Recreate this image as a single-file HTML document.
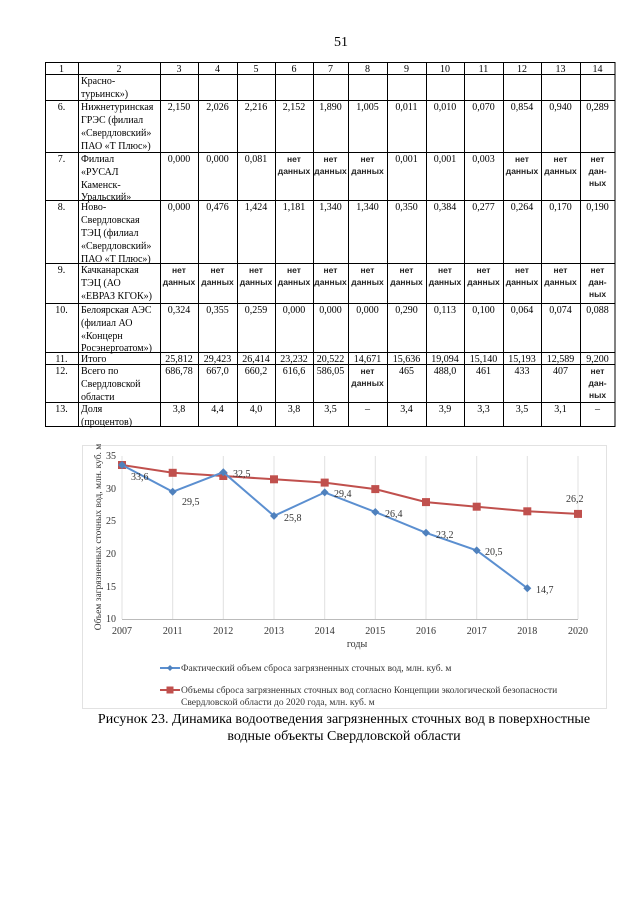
<!DOCTYPE html>
<html><head><meta charset="utf-8"><style>
body{margin:0;background:#fff}
svg{display:block}
.t{font-family:"Liberation Serif",serif;font-size:10px;fill:#000}
.b{font-family:"Liberation Sans",sans-serif;font-size:8.5px;font-weight:bold;fill:#222}
.c{font-family:"Liberation Serif",serif;font-size:10px;fill:#333}
</style></head><body>
<svg width="640" height="905" viewBox="0 0 640 905" xmlns="http://www.w3.org/2000/svg">
<text x="341" y="46" class="t" style="font-size:14px" text-anchor="middle">51</text>
<g stroke="#000" stroke-width="1" fill="none">
<rect x="45.5" y="62.5" width="569.5" height="364"/>
<line x1="45" y1="74.5" x2="615" y2="74.5"/>
<line x1="45" y1="100.5" x2="615" y2="100.5"/>
<line x1="45" y1="152.5" x2="615" y2="152.5"/>
<line x1="45" y1="200.5" x2="615" y2="200.5"/>
<line x1="45" y1="263.5" x2="615" y2="263.5"/>
<line x1="45" y1="303.5" x2="615" y2="303.5"/>
<line x1="45" y1="352.5" x2="615" y2="352.5"/>
<line x1="45" y1="364.5" x2="615" y2="364.5"/>
<line x1="45" y1="402.5" x2="615" y2="402.5"/>
<line x1="78.5" y1="62" x2="78.5" y2="427"/>
<line x1="160.5" y1="62" x2="160.5" y2="427"/>
<line x1="198.5" y1="62" x2="198.5" y2="427"/>
<line x1="237.5" y1="62" x2="237.5" y2="427"/>
<line x1="275.5" y1="62" x2="275.5" y2="427"/>
<line x1="313.5" y1="62" x2="313.5" y2="427"/>
<line x1="348.5" y1="62" x2="348.5" y2="427"/>
<line x1="387.5" y1="62" x2="387.5" y2="427"/>
<line x1="426.5" y1="62" x2="426.5" y2="427"/>
<line x1="464.5" y1="62" x2="464.5" y2="427"/>
<line x1="503.5" y1="62" x2="503.5" y2="427"/>
<line x1="541.5" y1="62" x2="541.5" y2="427"/>
<line x1="580.5" y1="62" x2="580.5" y2="427"/>
</g>
<g class="t" text-anchor="middle">
<text x="61.5" y="72">1</text><text x="119" y="72">2</text><text x="179" y="72">3</text><text x="217.5" y="72">4</text><text x="256" y="72">5</text><text x="294" y="72">6</text><text x="330.5" y="72">7</text><text x="367.5" y="72">8</text><text x="406.5" y="72">9</text><text x="445" y="72">10</text><text x="483.5" y="72">11</text><text x="522" y="72">12</text><text x="560.5" y="72">13</text><text x="597.5" y="72">14</text>
<!-- row 6 -->
<text x="61.5" y="110">6.</text>
<text x="179" y="110">2,150</text><text x="217.5" y="110">2,026</text><text x="256" y="110">2,216</text><text x="294" y="110">2,152</text><text x="330.5" y="110">1,890</text><text x="367.5" y="110">1,005</text><text x="406.5" y="110">0,011</text><text x="445" y="110">0,010</text><text x="483.5" y="110">0,070</text><text x="522" y="110">0,854</text><text x="560.5" y="110">0,940</text><text x="597.5" y="110">0,289</text>
<!-- row 7 -->
<text x="61.5" y="162">7.</text>
<text x="179" y="162">0,000</text><text x="217.5" y="162">0,000</text><text x="256" y="162">0,081</text>
<text x="406.5" y="162">0,001</text><text x="445" y="162">0,001</text><text x="483.5" y="162">0,003</text>
<!-- row 8 -->
<text x="61.5" y="210">8.</text>
<text x="179" y="210">0,000</text><text x="217.5" y="210">0,476</text><text x="256" y="210">1,424</text><text x="294" y="210">1,181</text><text x="330.5" y="210">1,340</text><text x="367.5" y="210">1,340</text><text x="406.5" y="210">0,350</text><text x="445" y="210">0,384</text><text x="483.5" y="210">0,277</text><text x="522" y="210">0,264</text><text x="560.5" y="210">0,170</text><text x="597.5" y="210">0,190</text>
<!-- row 9 -->
<text x="61.5" y="273">9.</text>
<!-- row 10 -->
<text x="61.5" y="313">10.</text>
<text x="179" y="313">0,324</text><text x="217.5" y="313">0,355</text><text x="256" y="313">0,259</text><text x="294" y="313">0,000</text><text x="330.5" y="313">0,000</text><text x="367.5" y="313">0,000</text><text x="406.5" y="313">0,290</text><text x="445" y="313">0,113</text><text x="483.5" y="313">0,100</text><text x="522" y="313">0,064</text><text x="560.5" y="313">0,074</text><text x="597.5" y="313">0,088</text>
<!-- row 11 -->
<text x="61.5" y="362">11.</text>
<text x="179" y="362">25,812</text><text x="217.5" y="362">29,423</text><text x="256" y="362">26,414</text><text x="294" y="362">23,232</text><text x="330.5" y="362">20,522</text><text x="367.5" y="362">14,671</text><text x="406.5" y="362">15,636</text><text x="445" y="362">19,094</text><text x="483.5" y="362">15,140</text><text x="522" y="362">15,193</text><text x="560.5" y="362">12,589</text><text x="597.5" y="362">9,200</text>
<!-- row 12 -->
<text x="61.5" y="374">12.</text>
<text x="179" y="374">686,78</text><text x="217.5" y="374">667,0</text><text x="256" y="374">660,2</text><text x="294" y="374">616,6</text><text x="330.5" y="374">586,05</text><text x="406.5" y="374">465</text><text x="445" y="374">488,0</text><text x="483.5" y="374">461</text><text x="522" y="374">433</text><text x="560.5" y="374">407</text>
<!-- row 13 -->
<text x="61.5" y="412">13.</text>
<text x="179" y="412">3,8</text><text x="217.5" y="412">4,4</text><text x="256" y="412">4,0</text><text x="294" y="412">3,8</text><text x="330.5" y="412">3,5</text><text x="367.5" y="412">–</text><text x="406.5" y="412">3,4</text><text x="445" y="412">3,9</text><text x="483.5" y="412">3,3</text><text x="522" y="412">3,5</text><text x="560.5" y="412">3,1</text><text x="597.5" y="412">–</text>
</g>
<g class="t">
<text x="81" y="84">Красно-</text><text x="81" y="97">турьинск»)</text>
<text x="81" y="110">Нижнетуринская</text><text x="81" y="123">ГРЭС (филиал</text><text x="81" y="136">«Свердловский»</text><text x="81" y="149">ПАО «Т Плюс»)</text>
<text x="81" y="162">Филиал</text><text x="81" y="175">«РУСАЛ</text><text x="81" y="188">Каменск-</text><text x="81" y="200">Уральский»</text>
<text x="81" y="210">Ново-</text><text x="81" y="223">Свердловская</text><text x="81" y="236">ТЭЦ (филиал</text><text x="81" y="249">«Свердловский»</text><text x="81" y="262">ПАО «Т Плюс»)</text>
<text x="81" y="273">Качканарская</text><text x="81" y="286">ТЭЦ (АО</text><text x="81" y="299">«ЕВРАЗ КГОК»)</text>
<text x="81" y="313">Белоярская АЭС</text><text x="81" y="326">(филиал АО</text><text x="81" y="339">«Концерн</text><text x="81" y="351">Росэнергоатом»)</text>
<text x="81" y="362">Итого</text>
<text x="81" y="374">Всего по</text><text x="81" y="387">Свердловской</text><text x="81" y="400">области</text>
<text x="81" y="412">Доля</text><text x="81" y="425">(процентов)</text>
</g>
<g class="b" text-anchor="middle">
<text x="294" y="162">нет</text><text x="294" y="174">данных</text>
<text x="330.5" y="162">нет</text><text x="330.5" y="174">данных</text>
<text x="367.5" y="162">нет</text><text x="367.5" y="174">данных</text>
<text x="522" y="162">нет</text><text x="522" y="174">данных</text>
<text x="560.5" y="162">нет</text><text x="560.5" y="174">данных</text>
<text x="597.5" y="162">нет</text><text x="597.5" y="174">дан-</text><text x="597.5" y="186">ных</text>
<text x="179" y="273">нет</text><text x="179" y="285">данных</text>
<text x="217.5" y="273">нет</text><text x="217.5" y="285">данных</text>
<text x="256" y="273">нет</text><text x="256" y="285">данных</text>
<text x="294" y="273">нет</text><text x="294" y="285">данных</text>
<text x="330.5" y="273">нет</text><text x="330.5" y="285">данных</text>
<text x="367.5" y="273">нет</text><text x="367.5" y="285">данных</text>
<text x="406.5" y="273">нет</text><text x="406.5" y="285">данных</text>
<text x="445" y="273">нет</text><text x="445" y="285">данных</text>
<text x="483.5" y="273">нет</text><text x="483.5" y="285">данных</text>
<text x="522" y="273">нет</text><text x="522" y="285">данных</text>
<text x="560.5" y="273">нет</text><text x="560.5" y="285">данных</text>
<text x="597.5" y="273">нет</text><text x="597.5" y="285">дан-</text><text x="597.5" y="297">ных</text>
<text x="367.5" y="374">нет</text><text x="367.5" y="386">данных</text>
<text x="597.5" y="374">нет</text><text x="597.5" y="386">дан-</text><text x="597.5" y="398">ных</text>
</g>
<!-- chart -->
<rect x="82.5" y="445.5" width="524" height="263" fill="none" stroke="#e2e2e2"/>
<g stroke="#e0e0e0" stroke-width="1">
<line x1="122" y1="456" x2="122" y2="619"/><line x1="172.7" y1="456" x2="172.7" y2="619"/><line x1="223.3" y1="456" x2="223.3" y2="619"/><line x1="274" y1="456" x2="274" y2="619"/><line x1="324.7" y1="456" x2="324.7" y2="619"/><line x1="375.3" y1="456" x2="375.3" y2="619"/><line x1="426" y1="456" x2="426" y2="619"/><line x1="476.7" y1="456" x2="476.7" y2="619"/><line x1="527.3" y1="456" x2="527.3" y2="619"/><line x1="578" y1="456" x2="578" y2="619"/>
</g>
<line x1="122" y1="619.5" x2="578" y2="619.5" stroke="#bbb"/>
<g class="c" text-anchor="end">
<text x="116" y="459">35</text><text x="116" y="492">30</text><text x="116" y="524">25</text><text x="116" y="557">20</text><text x="116" y="590">15</text><text x="116" y="622">10</text>
</g>
<g class="c" text-anchor="middle">
<text x="122" y="634">2007</text><text x="172.7" y="634">2011</text><text x="223.3" y="634">2012</text><text x="274" y="634">2013</text><text x="324.7" y="634">2014</text><text x="375.3" y="634">2015</text><text x="426" y="634">2016</text><text x="476.7" y="634">2017</text><text x="527.3" y="634">2018</text><text x="578" y="634">2020</text>
<text x="357" y="647">годы</text>
</g>
<text class="c" transform="translate(101,537) rotate(-90)" text-anchor="middle" style="font-size:9.5px">Объем загрязненных сточных вод, млн. куб. м</text>
<polyline fill="none" stroke="#c0504d" stroke-width="2" points="122,465 172.7,472.8 223.3,476 274,479.3 324.7,482.6 375.3,489.1 426,502.1 476.7,506.7 527.3,511.3 578,513.9"/>
<g fill="#c0504d">
<rect x="118" y="461" width="8" height="8"/><rect x="168.7" y="468.8" width="8" height="8"/><rect x="219.3" y="472" width="8" height="8"/><rect x="270" y="475.3" width="8" height="8"/><rect x="320.7" y="478.6" width="8" height="8"/><rect x="371.3" y="485.1" width="8" height="8"/><rect x="422" y="498.1" width="8" height="8"/><rect x="472.7" y="502.7" width="8" height="8"/><rect x="523.3" y="507.3" width="8" height="8"/><rect x="574" y="509.9" width="8" height="8"/>
</g>
<polyline fill="none" stroke="#5b8fd0" stroke-width="2" points="122,465 172.7,491.8 223.3,472.2 274,515.9 324.7,492.4 375.3,512 426,532.8 476.7,550.4 527.3,588.2"/>
<g fill="#4f81bd">
<path d="M122,461l4,4l-4,4l-4,-4z"/><path d="M172.7,487.8l4,4l-4,4l-4,-4z"/><path d="M223.3,468.2l4,4l-4,4l-4,-4z"/><path d="M274,511.9l4,4l-4,4l-4,-4z"/><path d="M324.7,488.4l4,4l-4,4l-4,-4z"/><path d="M375.3,508l4,4l-4,4l-4,-4z"/><path d="M426,528.8l4,4l-4,4l-4,-4z"/><path d="M476.7,546.4l4,4l-4,4l-4,-4z"/><path d="M527.3,584.2l4,4l-4,4l-4,-4z"/>
</g>
<g class="c">
<text x="131" y="480">33,6</text><text x="182" y="505">29,5</text><text x="233" y="477">32,5</text><text x="284" y="521">25,8</text><text x="334" y="497">29,4</text><text x="385" y="517">26,4</text><text x="436" y="538">23,2</text><text x="485" y="555">20,5</text><text x="536" y="593">14,7</text><text x="566" y="502">26,2</text>
</g>
<line x1="160" y1="668" x2="180" y2="668" stroke="#5b8fd0" stroke-width="2"/><path d="M170,665l3,3l-3,3l-3,-3z" fill="#4f81bd"/>
<text x="181" y="671" class="c" style="font-size:9.5px">Фактический объем сброса загрязненных сточных вод, млн. куб. м</text>
<line x1="160" y1="690" x2="180" y2="690" stroke="#c0504d" stroke-width="2"/><rect x="166.5" y="686.5" width="7" height="7" fill="#c0504d"/>
<text x="181" y="693" class="c" style="font-size:9.5px">Объемы сброса загрязненных сточных вод согласно Концепции экологической безопасности</text>
<text x="181" y="705" class="c" style="font-size:9.5px">Свердловской области до 2020 года, млн. куб. м</text>
<text x="344" y="723" class="t" style="font-size:14px" text-anchor="middle">Рисунок 23. Динамика водоотведения загрязненных сточных вод в поверхностные</text>
<text x="344" y="740" class="t" style="font-size:14px" text-anchor="middle">водные объекты Свердловской области</text>
</svg>
</body></html>
